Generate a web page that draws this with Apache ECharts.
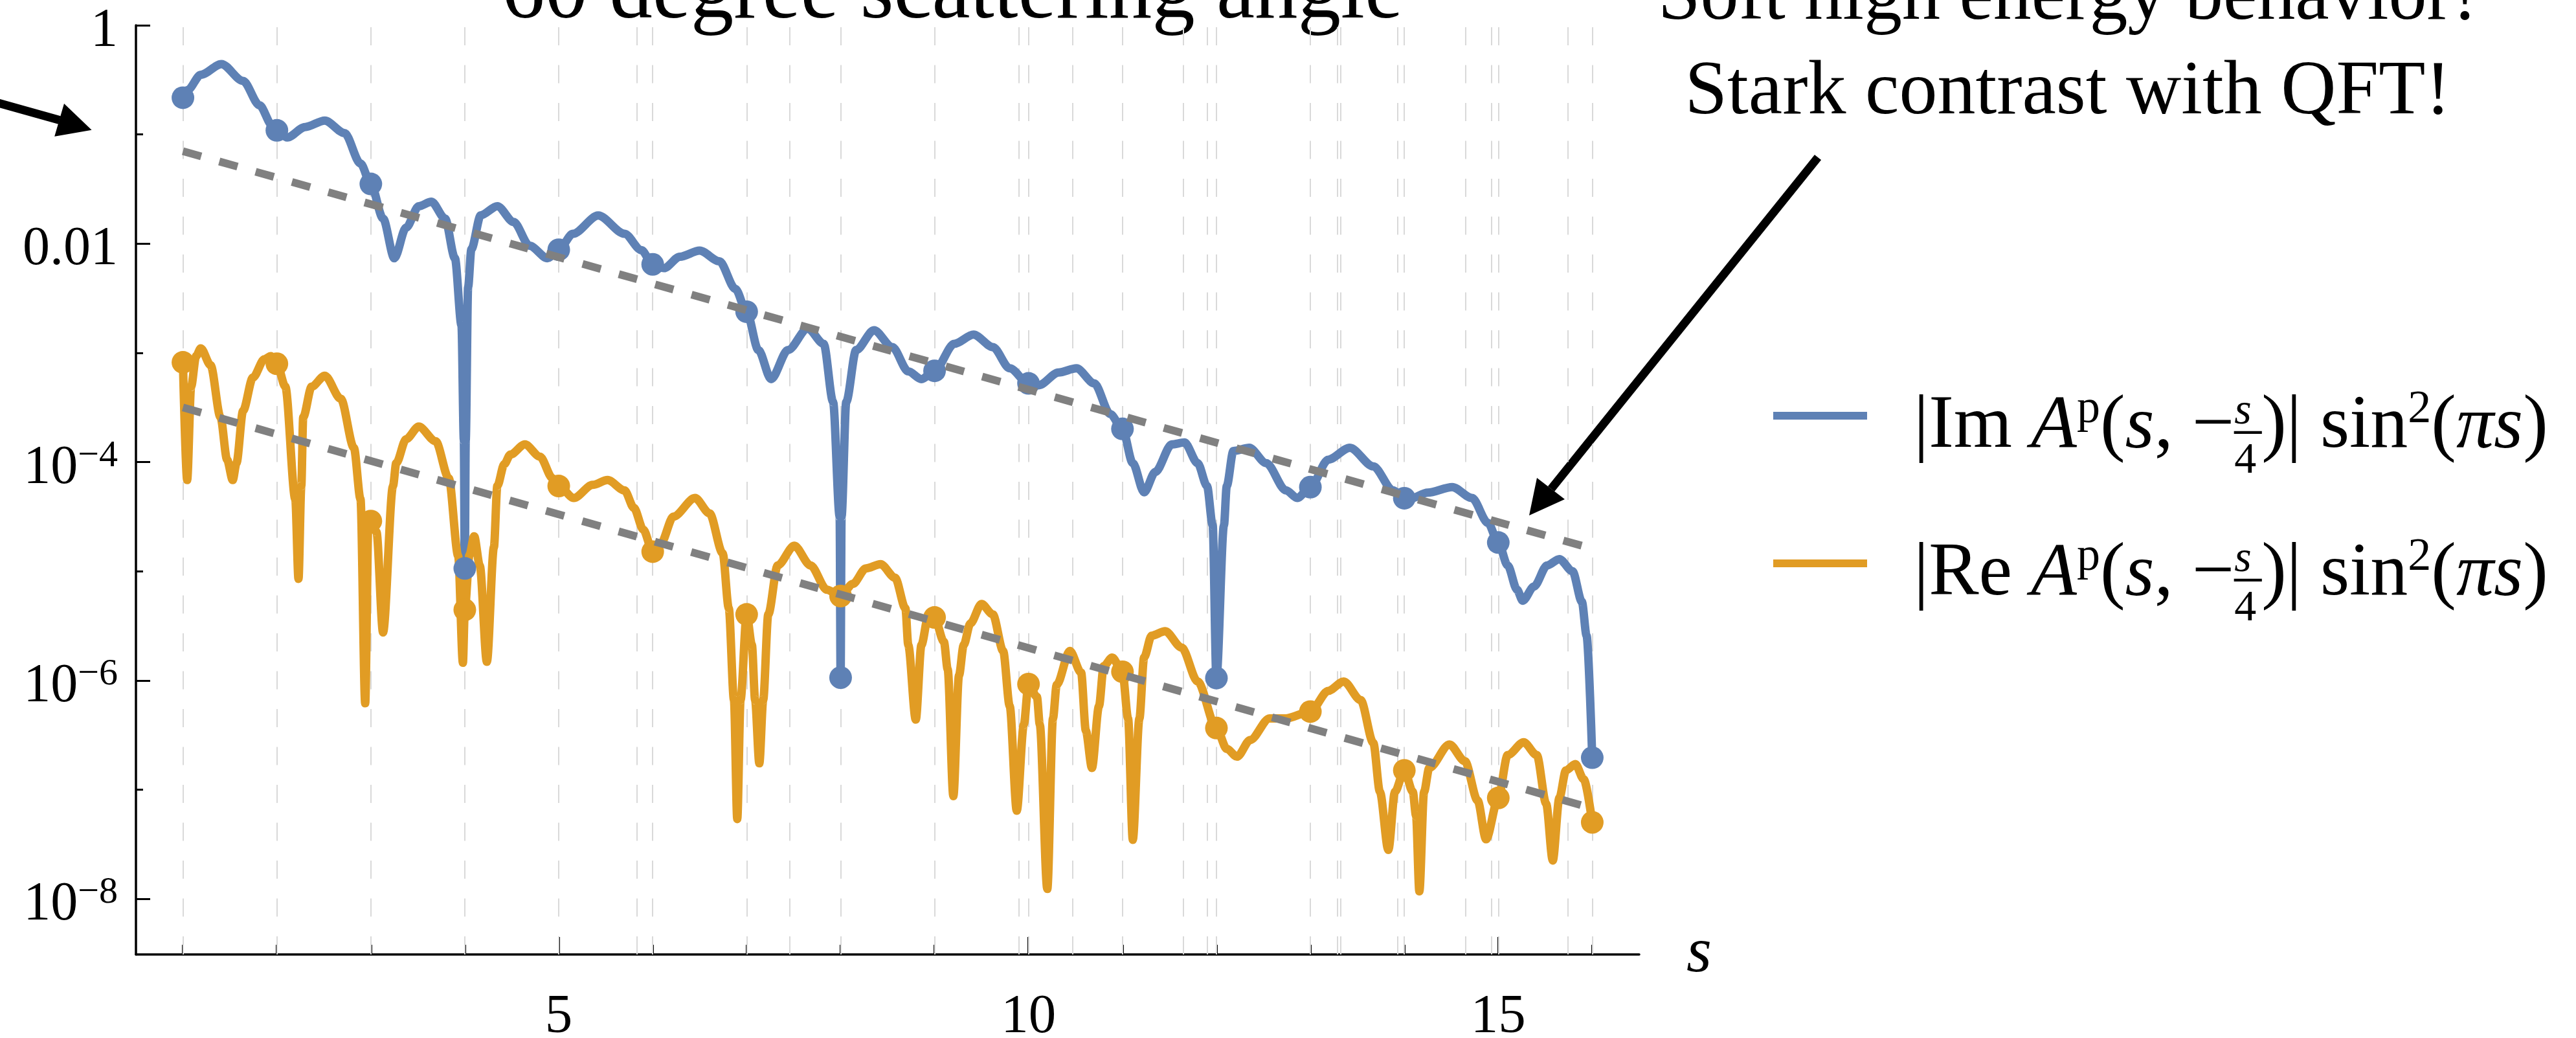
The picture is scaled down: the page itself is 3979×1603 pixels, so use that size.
<!DOCTYPE html>
<html>
<head>
<meta charset="utf-8">
<style>
  html, body { margin: 0; padding: 0; background: #ffffff; }
  #chart { width: 3979px; height: 1603px; }
</style>
<script src="https://cdn.jsdelivr.net/npm/echarts@6/dist/echarts.min.js"></script>
</head>
<body>
<div id="chart"></div>
<script>
// |Im A^p(s,-s/4)| sin^2(pi s) as [s, value]
var imPoints = [
  [1.00, 0.217], [1.05, 0.255], [1.19, 0.352], [1.41, 0.441], [1.64, 0.309], [1.815, 0.185],
  [1.95, 0.121], [2.00, 0.109], [2.11, 0.0938], [2.30, 0.117], [2.51, 0.134], [2.72, 0.103],
  [2.89, 0.0542], [3.00, 0.0352], [3.13, 0.0170], [3.25, 0.00735], [3.375, 0.0140], [3.51, 0.0220],
  [3.645, 0.0242], [3.79, 0.0170], [3.895, 0.00735], [3.965, 0.00178], [3.99, 1.58e-4], [4.00, 1.06e-5],
  [4.01, 1.58e-4], [4.035, 0.00398], [4.07, 0.00891], [4.17, 0.0182], [4.346, 0.0220], [4.52, 0.0158],
  [4.69, 0.00955], [4.88, 0.00735], [5.00, 0.00879], [5.15, 0.0123], [5.42, 0.0181], [5.70, 0.0123],
  [5.88, 0.00871], [6.00, 0.00646], [6.12, 0.00597], [6.29, 0.00759], [6.50, 0.00863], [6.71, 0.00689],
  [6.88, 0.00385], [7.00, 0.00238], [7.125, 0.00106], [7.26, 5.75e-4], [7.44, 0.00106], [7.65, 0.00167],
  [7.82, 0.00121], [7.92, 3.55e-4], [7.99, 3.16e-5], [8.00, 1.06e-6], [8.01, 3.16e-5], [8.06, 3.55e-4],
  [8.165, 0.00106], [8.355, 0.00161], [8.55, 0.00113], [8.72, 6.76e-4], [8.86, 5.75e-4], [9.00, 6.84e-4],
  [9.21, 0.00121], [9.415, 0.00147], [9.62, 0.00113], [9.80, 7.21e-4], [10.00, 5.25e-4], [10.11, 5.05e-4],
  [10.32, 6.61e-4], [10.51, 7.21e-4], [10.70, 5.25e-4], [10.87, 2.75e-4], [11.00, 2.01e-4], [11.11, 9.77e-5],
  [11.23, 5.28e-5], [11.35, 8.13e-5], [11.525, 1.45e-4], [11.66, 1.51e-4], [11.80, 9.77e-5], [11.90, 6.03e-5],
  [11.96, 2.63e-5], [12.00, 1.05e-6], [12.08, 2.63e-5], [12.11, 6.03e-5], [12.18, 1.26e-4], [12.35, 1.35e-4],
  [12.53, 9.77e-5], [12.74, 5.50e-5], [12.86, 4.68e-5], [13.00, 5.89e-5], [13.19, 1.05e-4], [13.42, 1.35e-4],
  [13.67, 9.12e-5], [13.88, 5.50e-5], [14.00, 4.66e-5], [14.05, 4.57e-5], [14.25, 5.25e-5], [14.51, 5.89e-5],
  [14.72, 4.68e-5], [14.89, 2.77e-5], [15.00, 1.83e-5], [15.10, 1.13e-5], [15.20, 6.76e-6], [15.26, 5.37e-6],
  [15.38, 7.24e-6], [15.52, 1.13e-5], [15.65, 1.29e-5], [15.79, 1.00e-5], [15.89, 5.25e-6], [15.94, 2.57e-6],
  [16.00, 1.96e-7]
];

// |Re A^p(s,-s/4)| sin^2(pi s)
var rePoints = [
  [1.00, 8.18e-4], [1.045, 6.84e-5], [1.087, 4.90e-4], [1.14, 9.33e-4], [1.19, 0.00110], [1.295, 7.69e-4],
  [1.40, 2.57e-4], [1.47, 1.05e-4], [1.53, 6.84e-5], [1.57, 9.77e-5], [1.64, 2.95e-4], [1.745, 5.94e-4],
  [1.867, 8.75e-4], [1.936, 9.33e-4], [2.00, 7.94e-4], [2.09, 4.90e-4], [2.196, 4.57e-5], [2.23, 8.51e-6],
  [2.26, 6.03e-5], [2.28, 2.57e-4], [2.37, 4.90e-4], [2.51, 6.17e-4], [2.68, 3.80e-4], [2.82, 1.35e-4],
  [2.89, 4.57e-5], [2.94, 6.17e-7], [2.975, 3.16e-5], [3.00, 2.88e-5], [3.06, 2.29e-5], [3.13, 2.75e-6],
  [3.236, 6.03e-5], [3.27, 9.77e-5], [3.375, 1.62e-4], [3.51, 2.11e-4], [3.69, 1.55e-4], [3.83, 7.08e-5],
  [3.93, 1.38e-5], [3.98, 1.45e-6], [4.00, 4.43e-6], [4.05, 1.41e-5], [4.10, 2.09e-5], [4.16, 1.12e-5],
  [4.235, 1.48e-6], [4.31, 1.66e-5], [4.346, 6.03e-5], [4.42, 9.55e-5], [4.485, 1.17e-4], [4.64, 1.45e-4],
  [4.80, 1.12e-4], [4.935, 7.08e-5], [5.00, 6.03e-5], [5.16, 4.68e-5], [5.36, 6.17e-5], [5.52, 6.84e-5],
  [5.70, 5.50e-5], [5.80, 3.80e-5], [5.90, 2.40e-5], [6.00, 1.51e-5], [6.085, 1.78e-5], [6.22, 3.16e-5],
  [6.45, 4.68e-5], [6.605, 3.39e-5], [6.745, 1.46e-5], [6.81, 4.57e-6], [6.865, 6.61e-7], [6.90, 5.37e-8],
  [6.935, 6.61e-7], [7.00, 4.02e-6], [7.056, 2.11e-6], [7.09, 6.61e-7], [7.135, 1.74e-7], [7.176, 6.61e-7],
  [7.23, 4.02e-6], [7.33, 1.13e-5], [7.507, 1.71e-5], [7.68, 1.13e-5], [7.854, 6.76e-6], [8.00, 5.92e-6],
  [8.13, 7.66e-6], [8.27, 1.06e-5], [8.425, 1.16e-5], [8.58, 8.71e-6], [8.69, 4.57e-6], [8.72, 2.11e-6],
  [8.80, 4.37e-7], [8.86, 2.11e-6], [8.93, 3.77e-6], [9.00, 3.77e-6], [9.10, 2.25e-6], [9.14, 1.26e-6],
  [9.20, 8.71e-8], [9.26, 1.11e-6], [9.31, 2.11e-6], [9.38, 3.31e-6], [9.50, 5.01e-6], [9.62, 4.02e-6],
  [9.73, 1.86e-6], [9.80, 5.81e-7], [9.875, 6.41e-8], [9.95, 3.94e-7], [10.00, 9.25e-7], [10.09, 7.05e-7],
  [10.12, 3.94e-7], [10.20, 1.23e-8], [10.26, 4.47e-7], [10.30, 9.12e-7], [10.44, 1.86e-6], [10.56, 1.18e-6],
  [10.61, 3.47e-7], [10.675, 1.58e-7], [10.75, 5.81e-7], [10.80, 1.35e-6], [10.89, 1.62e-6], [11.00, 1.20e-6],
  [11.06, 4.47e-7], [11.11, 3.47e-8], [11.18, 4.47e-7], [11.23, 1.62e-6], [11.31, 2.57e-6], [11.455, 2.82e-6],
  [11.63, 2.00e-6], [11.80, 9.77e-7], [12.00, 3.66e-7], [12.11, 2.36e-7], [12.22, 2.00e-7], [12.36, 2.85e-7],
  [12.565, 4.49e-7], [12.74, 4.49e-7], [13.00, 5.18e-7], [13.19, 8.02e-7], [13.355, 9.77e-7], [13.535, 6.61e-7],
  [13.67, 2.68e-7], [13.74, 9.55e-8], [13.83, 2.80e-8], [13.90, 9.55e-8], [14.00, 1.50e-7], [14.09, 9.55e-8],
  [14.125, 5.75e-8], [14.16, 1.17e-8], [14.21, 9.55e-8], [14.265, 1.58e-7], [14.48, 2.59e-7], [14.645, 1.82e-7],
  [14.78, 7.94e-8], [14.87, 3.51e-8], [15.00, 8.38e-8], [15.10, 2.07e-7], [15.27, 2.71e-7], [15.41, 2.07e-7],
  [15.51, 7.41e-8], [15.58, 2.24e-8], [15.65, 8.38e-8], [15.72, 1.50e-7], [15.82, 1.71e-7], [15.91, 1.24e-7],
  [16.00, 5.01e-8]
];

// dashed exponential guide lines (end points)
var refIm = [[1, 0.0702], [16, 1.61e-5]];
var refRe = [[1, 3.16e-4], [16, 6.73e-8]];

// vertical dashed grid lines
var gridS = [1, 2, 3, 4, 5, 5.83, 6, 7, 7.46, 8, 9, 9.90, 10, 10.47, 11, 11.65, 11.90, 12,
             13, 13.29, 13.32, 13.93, 14, 14.65, 14.93, 15, 15.745, 16];

var xTicks = [1, 2, 3, 4, 5, 6, 7, 8, 9, 10, 11, 12, 13, 14, 15, 16];
var xLabels = [5, 10, 15];
var yTicks = [-8, -7, -6, -5, -4, -3, -2, -1, 0];   // decades
var yLabels = [-8, -6, -4, -2, 0];

var BLUE = '#5E81B5', ORANGE = '#E19C24', GRAY = '#808080';
var SERIF = '"Liberation Serif", "Times New Roman", serif';
var CURVE_W = 13, FIT_W = 12;

function toLog(pts) {
  return pts.map(function (p) { return [p[0], Math.log10(p[1])]; });
}
function atIntegers(pts) {
  return toLog(pts.filter(function (p) { return Number.isInteger(p[0]); }));
}

var chart = echarts.init(document.getElementById('chart'));

var legendRich = {
  gap: { width: 67, fontSize: 10 },
  b: { fontSize: 116, fontFamily: SERIF, color: '#000', lineHeight: 116, verticalAlign: 'top', padding: [18, 0, 36, 0] },
  i: { fontSize: 116, fontFamily: SERIF, fontStyle: 'italic', color: '#000', lineHeight: 116, verticalAlign: 'top', padding: [18, 0, 36, 0] },
  sp: { fontSize: 72, fontFamily: SERIF, color: '#000', lineHeight: 72, verticalAlign: 'top', padding: [13, 0, 0, 0] },
  fn: { fontSize: 68, fontFamily: SERIF, fontStyle: 'italic', color: '#000', lineHeight: 68, verticalAlign: 'top', padding: [18, 0, 0, 0], width: 0 },
  fd: { fontSize: 68, fontFamily: SERIF, color: '#000', lineHeight: 68, verticalAlign: 'top', padding: [94, 0, 0, 0], width: 0 },
  fb: { fontSize: 84, fontFamily: SERIF, color: '#000', lineHeight: 84, verticalAlign: 'top', padding: [40, 0, 0, 0] }
};

function legendLabel(part) {
  return '{gap| }{b||' + part + ' }{i|A}{sp|p}{b|(}{i|s}{b|, \u2212}{fn|s}{fd|4}{fb|\u2013}{b|)| sin}{sp|2}{b|(}{i|\u03c0s}{b|)}';
}

var option = {
  animation: false,
  backgroundColor: '#ffffff',
  grid: { left: 210, top: 39, width: 2322, height: 1435, outerBoundsMode: 'none' },
  legend: {
    orient: 'vertical',
    left: 2739,
    top: 584,
    padding: 0,
    icon: 'rect',
    itemWidth: 145,
    itemHeight: 12,
    itemGap: 58,
    selectedMode: false,
    data: ['Im', 'Re'],
    formatter: function (name) { return legendLabel(name); },
    textStyle: { color: '#000', rich: legendRich }
  },
  xAxis: [
    {
      type: 'value', min: 0.5, max: 16.5, position: 'bottom',
      axisLine: { onZero: false, lineStyle: { color: '#000', width: 3.5 } },
      axisTick: { inside: true, length: 15, customValues: xTicks, lineStyle: { color: '#000', width: 3 } },
      axisLabel: { show: false },
      splitLine: { show: false }
    },
    {
      type: 'value', min: 0.5, max: 16.5, position: 'bottom',
      axisLine: { show: false, onZero: false },
      axisTick: { inside: true, length: 27, customValues: xLabels, lineStyle: { color: '#000', width: 3 } },
      axisLabel: { customValues: xLabels, margin: 68, fontSize: 85, lineHeight: 60, fontFamily: SERIF, color: '#000' },
      splitLine: { show: false },
      name: 's', nameLocation: 'end', nameGap: 73,
      nameTextStyle: { fontSize: 100, fontStyle: 'italic', fontFamily: SERIF, color: '#000', padding: [0, 0, 16, 0] }
    }
  ],
  yAxis: [
    {
      type: 'value', min: -8.51, max: 0,
      axisLine: { onZero: false, lineStyle: { color: '#000', width: 3.5 } },
      axisTick: { inside: true, length: 11, customValues: yTicks, lineStyle: { color: '#000', width: 3 } },
      axisLabel: { show: false },
      splitLine: { show: false }
    },
    {
      type: 'value', min: -8.51, max: 0, position: 'left',
      axisLine: { show: false, onZero: false },
      axisTick: { inside: true, length: 22, customValues: yLabels, lineStyle: { color: '#000', width: 3 } },
      axisLabel: {
        customValues: yLabels, margin: 28, padding: [20, 0, 0, 0],
        formatter: function (v) {
          if (v === 0) return '{b|1}';
          if (v === -2) return '{b|0.01}';
          return '{b|10}{s|\u2212' + (-v) + '}';
        },
        rich: {
          b: { fontSize: 84, fontFamily: SERIF, color: '#000', lineHeight: 100, verticalAlign: 'middle' },
          s: { fontSize: 58, fontFamily: SERIF, color: '#000', lineHeight: 58, verticalAlign: 'top', padding: [2, 0, 0, 0] }
        }
      },
      splitLine: { show: false }
    }
  ],
  series: [
    {
      name: 'grid', type: 'line', data: [], z: 1, silent: true,
      markLine: {
        z: 1, silent: true, animation: false, symbol: ['none', 'none'],
        label: { show: false },
        lineStyle: { color: '#d9d9d9', width: 2, type: [28, 30.5] },
        emphasis: { disabled: true },
        data: gridS.map(function (s) { return { xAxis: s }; })
      }
    },
    {
      name: 'Im', type: 'line', data: toLog(imPoints), z: 3, symbol: 'none', showSymbol: false,
      smooth: 0.3, smoothMonotone: 'x',
      itemStyle: { color: BLUE },
      lineStyle: { color: BLUE, width: CURVE_W, join: 'bevel' }
    },
    {
      name: 'Re', type: 'line', data: toLog(rePoints), z: 4, symbol: 'none', showSymbol: false,
      smooth: 0.3, smoothMonotone: 'x',
      itemStyle: { color: ORANGE },
      lineStyle: { color: ORANGE, width: CURVE_W, join: 'bevel' }
    },
    {
      name: 'Im points', type: 'scatter', data: atIntegers(imPoints), z: 5,
      symbolSize: 35, itemStyle: { color: BLUE, opacity: 1 }
    },
    {
      name: 'Re points', type: 'scatter', data: atIntegers(rePoints), z: 6,
      symbolSize: 35, itemStyle: { color: ORANGE, opacity: 1 }
    },
    {
      name: 'Im fit', type: 'line', data: toLog(refIm), z: 7, symbol: 'none',
      lineStyle: { color: GRAY, width: FIT_W, type: [29.3, 29], cap: 'butt' }
    },
    {
      name: 'Re fit', type: 'line', data: toLog(refRe), z: 7, symbol: 'none',
      lineStyle: { color: GRAY, width: FIT_W, type: [29.3, 29], cap: 'butt' }
    }
  ],
  graphic: [
    {
      type: 'text', x: 1471, y: -8,
      style: { text: '60 degree scattering angle', fontSize: 133, fontFamily: SERIF, fill: '#000', align: 'center', verticalAlign: 'middle' }
    },
    {
      type: 'text', x: 3194, y: -75,
      style: { text: 'Soft high energy behavior!\nStark contrast with QFT!', fontSize: 118, lineHeight: 146, fontFamily: SERIF, fill: '#000', align: 'center', verticalAlign: 'top' }
    },
    // left arrow
    { type: 'line', shape: { x1: -10, y1: 157, x2: 92, y2: 185.4 }, style: { stroke: '#000', lineWidth: 13 } },
    { type: 'polygon', shape: { points: [[99, 160], [141.6, 200.7], [84.2, 210.7]] }, style: { fill: '#000' } },
    // right arrow
    { type: 'line', shape: { x1: 2808, y1: 243, x2: 2396, y2: 755 }, style: { stroke: '#000', lineWidth: 13 } },
    { type: 'polygon', shape: { points: [[2374, 738], [2417, 771], [2362, 796]] }, style: { fill: '#000' } }
  ]
};

chart.setOption(option);
window.onresize = function () { chart.resize(); };
</script>
</body>
</html>
